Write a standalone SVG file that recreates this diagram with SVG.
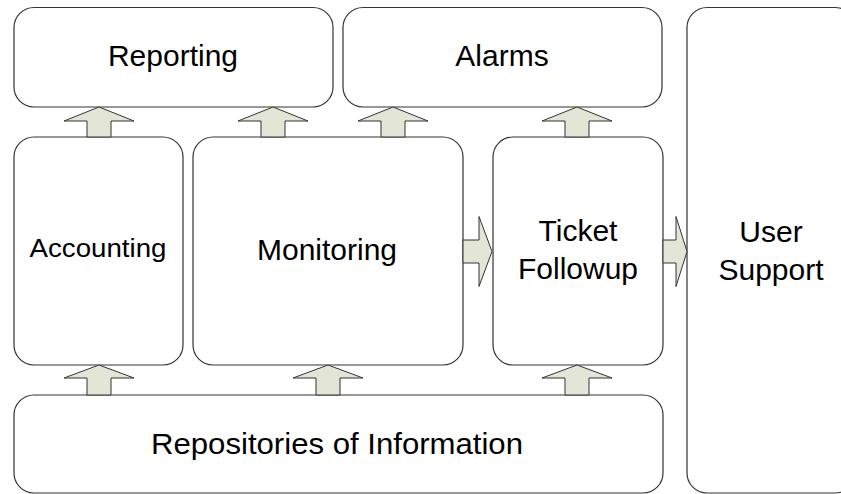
<svg xmlns="http://www.w3.org/2000/svg" width="841" height="494" viewBox="0 0 841 494">
<style>
.box{fill:#fff;stroke:#333;stroke-width:1.2}
.arr{fill:#e3e5d6;stroke:#333;stroke-width:1}
.t{font-family:"Liberation Sans",Arial,sans-serif;font-size:30px;fill:#000;text-anchor:middle}
</style>
<rect width="841" height="494" fill="#fff"/>
<g id="reporting"><rect class="box" x="14" y="7.5" width="319" height="99.5" rx="20"/><text class="t" x="173" y="66">Reporting</text></g>
<g id="alarms"><rect class="box" x="343" y="7.5" width="319" height="99.5" rx="20"/><text class="t" x="502" y="66">Alarms</text></g>
<g id="accounting"><rect class="box" x="14" y="137" width="169" height="228" rx="20"/><text class="t" x="98" y="257" style="font-size:26px" textLength="137" lengthAdjust="spacingAndGlyphs">Accounting</text></g>
<g id="monitoring"><rect class="box" x="193" y="137" width="270" height="228" rx="20"/><text class="t" x="327" y="260">Monitoring</text></g>
<g id="ticket"><rect class="box" x="493" y="137" width="170" height="228" rx="20"/><text class="t" x="578" y="241">Ticket</text><text class="t" x="578" y="279">Followup</text></g>
<g id="usersupport"><rect class="box" x="687" y="7.5" width="168" height="485.5" rx="20"/><text class="t" x="771" y="242">User</text><text class="t" x="771" y="280">Support</text></g>
<g id="repositories"><rect class="box" x="14" y="395" width="649" height="98" rx="20"/><text class="t" x="337" y="454" textLength="372" lengthAdjust="spacingAndGlyphs">Repositories of Information</text></g>
<g id="connectors">
<polygon class="arr" points="99,107 134,121 111,121 111,137 87,137 87,121 64,121"/>
<polygon class="arr" points="273,107 308,121 285,121 285,137 261,137 261,121 238,121"/>
<polygon class="arr" points="393,107 428,121 405,121 405,137 381,137 381,121 358,121"/>
<polygon class="arr" points="577,107 612,121 589,121 589,137 565,137 565,121 542,121"/>
<polygon class="arr" points="99,365 134,378 111,378 111,395 87,395 87,378 64,378"/>
<polygon class="arr" points="328,365 363,378 340,378 340,395 316,395 316,378 293,378"/>
<polygon class="arr" points="577,365 612,378 589,378 589,395 565,395 565,378 542,378"/>
<polygon class="arr" points="492,251.5 479,286.5 479,263 463,263 463,240 479,240 479,216.5"/>
<polygon class="arr" points="687,251.5 676,286.5 676,263 663,263 663,240 676,240 676,216.5"/>
</g>
</svg>
